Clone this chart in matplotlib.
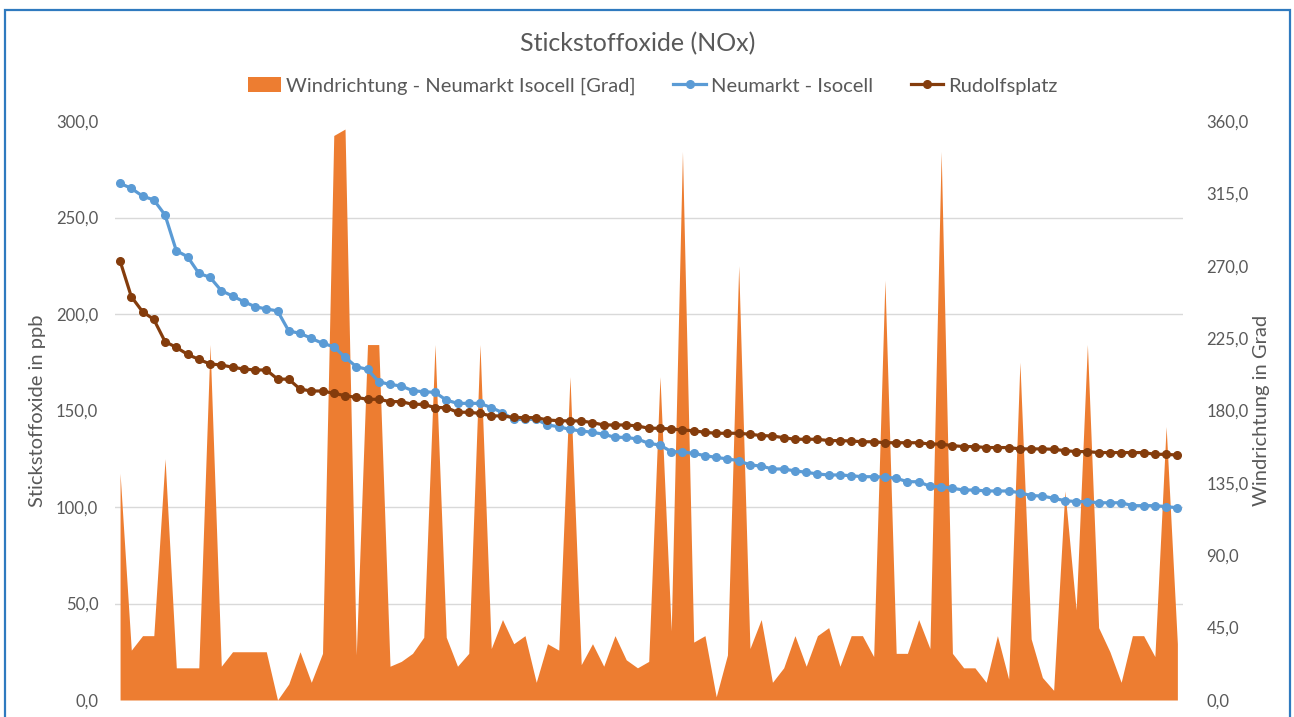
import numpy as np
import matplotlib
matplotlib.use('Agg')
import matplotlib.pyplot as plt
from matplotlib.ticker import FixedLocator, FuncFormatter
from matplotlib.patches import Rectangle

plt.rcParams['font.family'] = ['Lato', 'DejaVu Sans']

# DATA
neumarkt = [267.7, 265.1, 261.1, 259.1, 251.3, 232.8, 229.7, 221.1, 219.0, 212.1,
            209.3, 206.4, 203.8, 202.6, 201.6, 191.2, 190.0, 187.4, 184.8, 183.1,
            177.6, 172.7, 171.3, 164.9, 163.5, 162.7, 160.3, 159.7, 159.4, 155.4,
            153.7, 153.7, 153.7, 151.5, 148.9, 145.4, 145.4, 145.4, 142.5, 141.6,
            140.2, 139.4, 138.7, 137.7, 136.1, 136.1, 135.2, 133.0, 132.1, 128.7,
            128.5, 127.8, 126.6, 125.7, 124.9, 124.0, 121.8, 121.2, 119.7, 119.7,
            118.7, 118.0, 117.1, 116.6, 116.6, 116.2, 115.7, 115.7, 115.5, 114.9,
            113.1, 113.1, 110.7, 110.5, 109.7, 108.8, 108.8, 108.3, 108.3, 108.3,
            107.4, 105.9, 105.7, 104.5, 103.3, 102.8, 102.8, 102.2, 102.2, 102.2,
            100.7, 100.7, 100.7, 100.2, 99.6]
rudolfsplatz = [227.5, 209.0, 201.2, 197.2, 185.7, 182.7, 179.1, 176.5, 174.1, 173.6,
                172.4, 171.5, 171.0, 171.0, 166.3, 166.2, 161.1, 160.1, 160.1, 158.9,
                157.7, 156.8, 155.8, 155.8, 154.6, 154.6, 153.2, 153.2, 151.5, 151.5,
                149.1, 149.1, 148.5, 147.2, 147.2, 146.4, 146.3, 146.3, 145.1, 144.7,
                144.6, 144.6, 143.7, 142.5, 142.5, 142.5, 142.0, 140.8, 140.8, 140.4,
                139.9, 139.5, 138.7, 138.2, 138.2, 138.2, 137.7, 137.0, 136.8, 135.9,
                135.1, 135.1, 135.1, 134.4, 134.4, 134.2, 133.8, 133.8, 133.3, 133.3,
                133.3, 133.3, 132.6, 132.6, 131.8, 131.3, 131.3, 130.8, 130.8, 130.8,
                130.1, 130.1, 130.1, 129.9, 129.2, 128.7, 128.7, 128.2, 128.2, 128.2,
                128.2, 128.2, 127.3, 127.3, 126.9]
windrichtung = [141, 31, 40, 40, 150, 20, 20, 20, 221, 21,
                30, 30, 30, 30, 0, 10, 30, 11, 29, 351,
                355, 28, 221, 221, 21, 24, 29, 39, 221, 39,
                21, 29, 221, 32, 50, 35, 40, 11, 35, 31,
                201, 22, 35, 21, 40, 25, 20, 24, 201, 43,
                341, 36, 40, 2, 28, 270, 32, 50, 11, 20,
                40, 21, 40, 45, 21, 40, 40, 27, 261, 29,
                29, 50, 32, 341, 29, 20, 20, 11, 40, 13,
                210, 38, 14, 6, 130, 56, 221, 45, 30, 11,
                40, 40, 27, 170, 35]
left_ticks = [0, 50, 100, 150, 200, 250, 300]
right_ticks = [0, 45, 90, 135, 180, 225, 270, 315, 360]

title = "Stickstoffoxide (NOx)"
llabel = "Stickstoffoxide in ppb"
rlabel = "Windrichtung in Grad"
txtcol = '#595959'

x = np.arange(len(neumarkt))
comma = FuncFormatter(lambda v, pos: f"{v:.1f}".replace('.', ','))

fig = plt.figure(figsize=(12.94, 7.17), dpi=100)
W, H = 1294., 717.
ax = fig.add_axes([115/W, 1-700/H, 1068/W, 579/H])
ax2 = ax.twinx()
ax.set_zorder(ax2.get_zorder()+1)
ax.patch.set_visible(False)
ax2.set_facecolor('#F2F2F2')

# area (right axis)
area = ax2.fill_between(x, windrichtung, color='#ED7D31', lw=0, zorder=2,
                        label="Windrichtung - Neumarkt Isocell [Grad]")
ax2.set_ylim(0, 360)
ax2.set_yticks(right_ticks)
ax2.yaxis.set_major_formatter(comma)
# gridlines belong to the left scale, drawn behind the area
ax2.yaxis.set_minor_locator(FixedLocator([v*360/300 for v in left_ticks]))
ax2.grid(True, which='minor', color='#D9D9D9', lw=1.0, zorder=0)
ax2.set_axisbelow(True)
ax2.tick_params(which='both', length=0)
ax2.tick_params(axis='y', labelsize=12, labelcolor=txtcol, pad=17)
ax2.set_ylabel(rlabel, fontsize=14.5, color=txtcol)
ax2.yaxis.set_label_coords(1.0655, 0.5)

# lines (left axis)
sargs = dict(marker='o', markersize=5.5, linewidth=2.3, zorder=3)
ax.plot(x, neumarkt, color='#5B9BD5', label="Neumarkt - Isocell", **sargs)
ax.plot(x, rudolfsplatz, color='#843C0C', label="Rudolfsplatz", **sargs)
ax.set_ylim(0, 300)
ax.set_yticks(left_ticks)
ax.yaxis.set_major_formatter(comma)
ax.tick_params(length=0)
ax.tick_params(axis='y', labelsize=12, labelcolor=txtcol, pad=12)
ax.set_ylabel(llabel, fontsize=14.5, color=txtcol)
ax.yaxis.set_label_coords(-0.0646, 0.5)
ax.set_xlim(-0.45, len(x)-0.5)
ax.set_xticks([])
for a in (ax, ax2):
  for s in a.spines.values():
    s.set_visible(False)

fig.text(638/W, 1-44/H, title, ha='center', va='center', fontsize=18, color=txtcol)

h1, l1 = ax2.get_legend_handles_labels()
h2, l2 = ax.get_legend_handles_labels()
fig.legend(h1+h2, l1+l2, loc='center', bbox_to_anchor=(653/W, 1-86/H), ncol=3,
           frameon=False, fontsize=14.5, labelcolor=txtcol, handlelength=1.6,
           handleheight=0.75, handletextpad=0.25, columnspacing=1.9, numpoints=1)

# blue chart frame
fig.patches.append(Rectangle((5/W, -0.02), 1285/W, 1-10/H+0.02, transform=fig.transFigure,
                             fill=False, edgecolor='#2F7ABF', lw=1.6))

plt.savefig('out.png', dpi=100)
